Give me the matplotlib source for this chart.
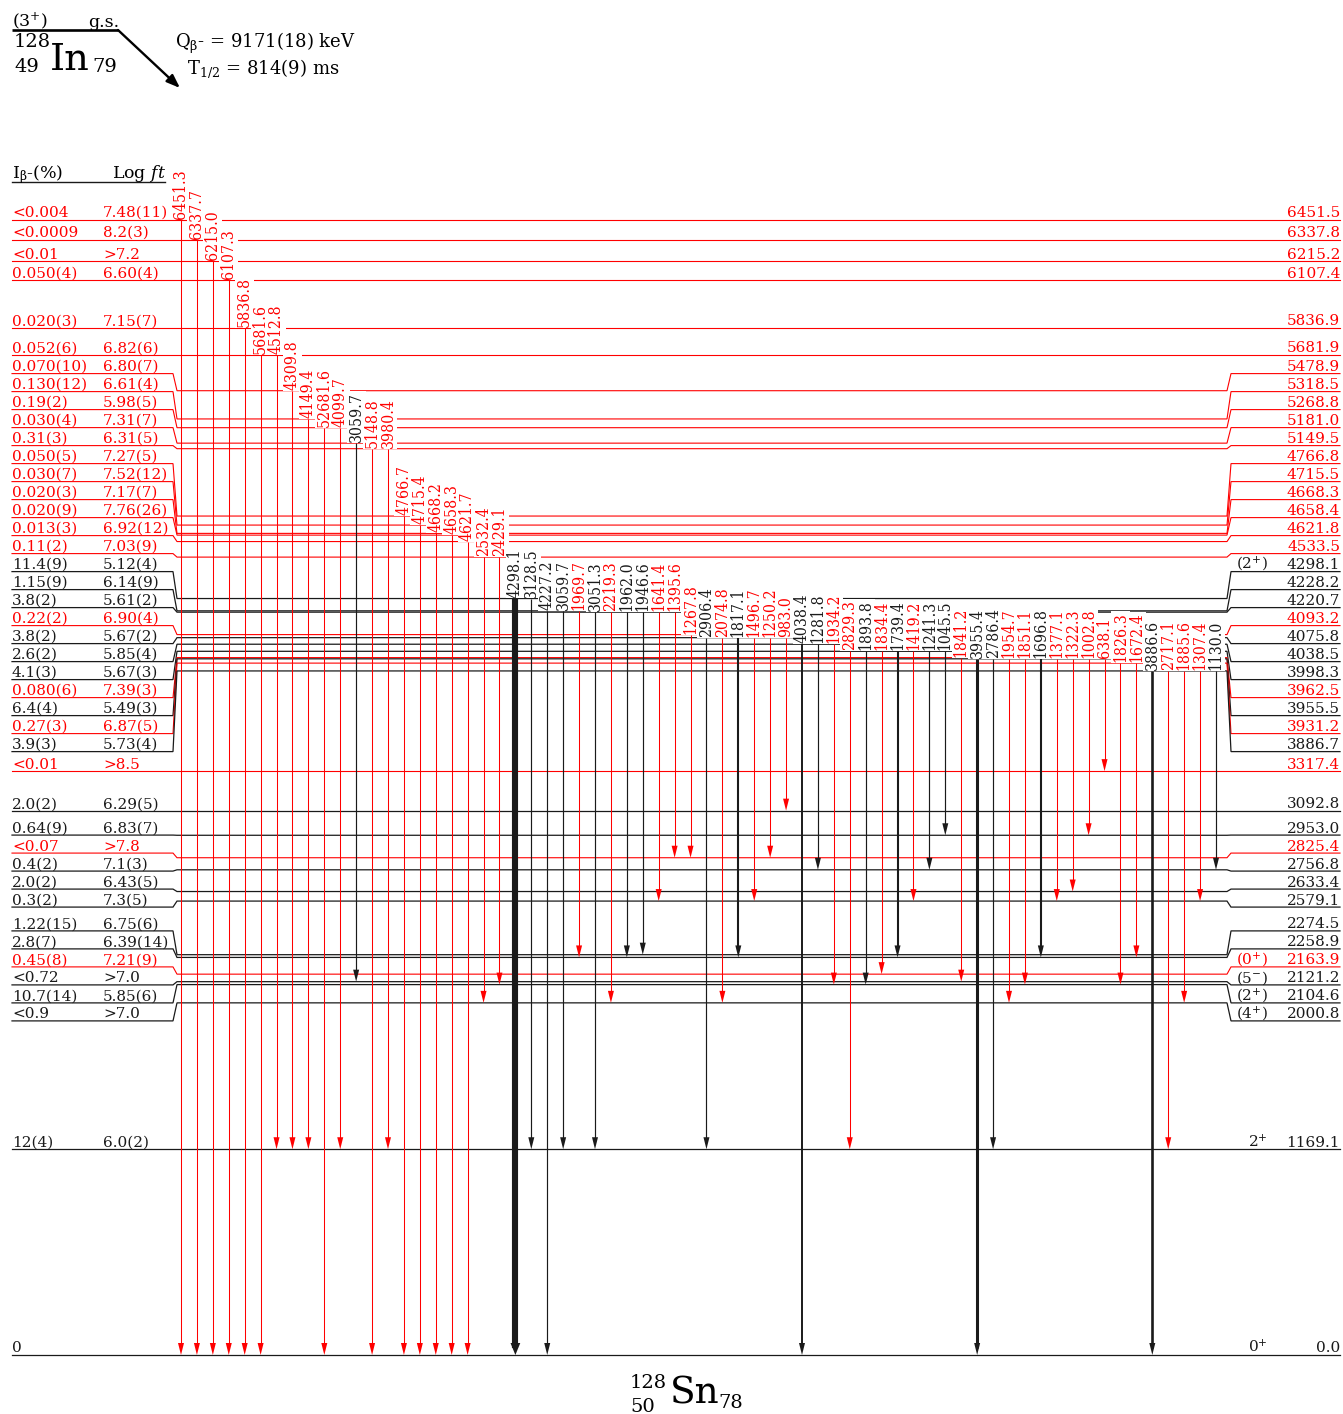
import matplotlib
matplotlib.use("Agg")
import matplotlib.pyplot as plt
from matplotlib.patches import Polygon

plt.rcParams['font.family'] = 'DejaVu Serif'
plt.rcParams['mathtext.fontset'] = 'dejavuserif'
plt.rcParams['mathtext.default'] = 'regular'

# ---------------------------------------------------------------- data
# Excited levels of 128Sn populated in the beta decay of 128In (keV)
level_energy = [6451.5, 6337.8, 6215.2, 6107.4, 5836.9, 5681.9, 5478.9, 5318.5,
                5268.8, 5181.0, 5149.5, 4766.8, 4715.5, 4668.3, 4658.4, 4621.8,
                4533.5, 4298.1, 4228.2, 4220.7, 4093.2, 4075.8, 4038.5, 3998.3,
                3962.5, 3955.5, 3931.2, 3886.7, 3317.4, 3092.8, 2953.0, 2825.4,
                2756.8, 2633.4, 2579.1, 2274.5, 2258.9, 2163.9, 2121.2, 2104.6,
                2000.8, 1169.1, 0.0]
beta_feed = ['<0.004', '<0.0009', '<0.01', '0.050(4)', '0.020(3)', '0.052(6)',
             '0.070(10)', '0.130(12)', '0.19(2)', '0.030(4)', '0.31(3)',
             '0.050(5)', '0.030(7)', '0.020(3)', '0.020(9)', '0.013(3)',
             '0.11(2)', '11.4(9)', '1.15(9)', '3.8(2)', '0.22(2)', '3.8(2)',
             '2.6(2)', '4.1(3)', '0.080(6)', '6.4(4)', '0.27(3)', '3.9(3)',
             '<0.01', '2.0(2)', '0.64(9)', '<0.07', '0.4(2)', '2.0(2)',
             '0.3(2)', '1.22(15)', '2.8(7)', '0.45(8)', '<0.72', '10.7(14)',
             '<0.9', '12(4)', '0']
log_ft = ['7.48(11)', '8.2(3)', '>7.2', '6.60(4)', '7.15(7)', '6.82(6)',
          '6.80(7)', '6.61(4)', '5.98(5)', '7.31(7)', '6.31(5)', '7.27(5)',
          '7.52(12)', '7.17(7)', '7.76(26)', '6.92(12)', '7.03(9)', '5.12(4)',
          '6.14(9)', '5.61(2)', '6.90(4)', '5.67(2)', '5.85(4)', '5.67(3)',
          '7.39(3)', '5.49(3)', '6.87(5)', '5.73(4)', '>8.5', '6.29(5)',
          '6.83(7)', '>7.8', '7.1(3)', '6.43(5)', '7.3(5)', '6.75(6)',
          '6.39(14)', '7.21(9)', '>7.0', '5.85(6)', '>7.0', '6.0(2)', '']
level_spin = {4298.1: '(2$^{+}$)', 2163.9: '(0$^{+}$)', 2121.2: '(5$^{-}$)',
              2104.6: '(2$^{+}$)', 2000.8: '(4$^{+}$)', 1169.1: '2$^{+}$',
              0.0: '0$^{+}$'}
new_level = [True] * 17 + [False, False, False, True, False, False, False,
                           True, False, True, False, True, False, False, True,
                           False, False, False, False, False, True, False,
                           False, False, False, False]

# Gamma-ray transitions: label, initial level, final level, newly placed
gamma_label = ['6451.3', '6337.7', '6215.0', '6107.3', '5836.8', '5681.6',
               '4512.8', '4309.8', '4149.4', '52681.6', '4099.7', '3059.7',
               '5148.8', '3980.4', '4766.7', '4715.4', '4668.2', '4658.3',
               '4621.7', '2532.4', '2429.1', '4298.1', '3128.5', '4227.2',
               '3059.7', '1969.7', '3051.3', '2219.3', '1962.0', '1946.6',
               '1641.4', '1395.6', '1267.8', '2906.4', '2074.8', '1817.1',
               '1496.7', '1250.2', '983.0', '4038.4', '1281.8', '1934.2',
               '2829.3', '1893.8', '1834.4', '1739.4', '1419.2', '1241.3',
               '1045.5', '1841.2', '3955.4', '2786.4', '1954.7', '1851.1',
               '1696.8', '1377.1', '1322.3', '1002.8', '638.1', '1826.3',
               '1672.4', '3886.6', '2717.1', '1885.6', '1307.4', '1130.0']
gamma_from = [6451.5, 6337.8, 6215.2, 6107.4, 5836.9, 5681.9, 5681.9, 5478.9,
              5318.5, 5268.8, 5268.8, 5181.0, 5149.5, 5149.5, 4766.8, 4715.5,
              4668.3, 4658.4, 4621.8, 4533.5, 4533.5, 4298.1, 4298.1, 4228.2,
              4228.2, 4228.2, 4220.7, 4220.7, 4220.7, 4220.7, 4220.7, 4220.7,
              4093.2, 4075.8, 4075.8, 4075.8, 4075.8, 4075.8, 4075.8, 4038.5,
              4038.5, 4038.5, 3998.3, 3998.3, 3998.3, 3998.3, 3998.3, 3998.3,
              3998.3, 3962.5, 3955.5, 3955.5, 3955.5, 3955.5, 3955.5, 3955.5,
              3955.5, 3955.5, 3955.5, 3931.2, 3931.2, 3886.7, 3886.7, 3886.7,
              3886.7, 3886.7]
gamma_to = [0.0, 0.0, 0.0, 0.0, 0.0, 0.0, 1169.1, 1169.1,
            1169.1, 0.0, 1169.1, 2121.2, 0.0, 1169.1, 0.0, 0.0,
            0.0, 0.0, 0.0, 2000.8, 2104.6, 0.0, 1169.1, 0.0,
            1169.1, 2258.9, 1169.1, 2000.8, 2258.9, 2274.5, 2579.1, 2825.4,
            2825.4, 1169.1, 2000.8, 2258.9, 2579.1, 2825.4, 3092.8, 0.0,
            2756.8, 2104.6, 1169.1, 2104.6, 2163.9, 2258.9, 2579.1, 2756.8,
            2953.0, 2121.2, 0.0, 1169.1, 2000.8, 2104.6, 2258.9, 2579.1,
            2633.4, 2953.0, 3317.4, 2104.6, 2258.9, 0.0, 1169.1, 2000.8,
            2579.1, 2756.8]
new_gamma = [True] * 11 + [False, True, True, True, True, True, True, True,
                           True, True, False, False, False, False, True, False,
                           True, False, False, True, True, True, False, True,
                           False, True, True, True, False, False, True, True,
                           False, True, False, True, False, False, True, False,
                           False, True, True, False, True, True, True, True,
                           True, True, False, True, True, True, False]

# ---------------------------------------------------------------- style
RED = '#ff0000'
BLACK = '#1a1a1a'
heavy_lw = {'4298.1': 4.4, '3955.4': 2.2, '3886.6': 1.9, '1817.1': 1.5,
            '4038.4': 1.4, '1739.4': 1.5, '1696.8': 1.5}

W, H = 1343, 1414
PX_PER_KEV = 0.176          # vertical scale of the scheme
ZERO_PX = 1355              # pixel row of the ground state
X_LEFT, X_KINK_L, X_KINK_R, X_RIGHT = 12, 173, 1229, 1340
X_FIRST, X_LAST = 181, 1216  # first and last gamma column
LABEL_GAP_PX = 18.0


def kev(px):
    return px / PX_PER_KEV


def spread_rows(targets, gap):
    """Place label rows at least `gap` apart, centring each crowded group."""
    order = sorted(range(len(targets)), key=lambda i: -targets[i])
    groups = []

    def place(group):
        mean = sum(targets[i] for i in group) / len(group)
        k = len(group)
        return {i: mean + gap * ((k - 1) / 2 - j) for j, i in enumerate(group)}

    for i in order:
        groups.append([i])
        while len(groups) > 1:
            upper, lower = place(groups[-2]), place(groups[-1])
            if min(upper.values()) - max(lower.values()) < gap:
                groups[-2:] = [groups[-2] + groups[-1]]
            else:
                break
    rows = [0.0] * len(targets)
    for g in groups:
        for i, v in place(g).items():
            rows[i] = v
    return rows


fig = plt.figure(figsize=(W / 100, H / 100), dpi=100)
ax = fig.add_axes([0, 0, 1, 1])
ax.set_xlim(0, W)
ax.set_ylim((ZERO_PX - H) / PX_PER_KEV, ZERO_PX / PX_PER_KEV)
ax.axis('off')

lay = fig.add_axes([0, 0, 1, 1], facecolor='none')
lay.set_xlim(0, W)
lay.set_ylim(H, 0)
lay.axis('off')

rows = spread_rows(level_energy, kev(LABEL_GAP_PX))

# ---------------------------------------------------------------- levels
FS_LEVEL = 11
for E, row, ib, ft, new in zip(level_energy, rows, beta_feed, log_ft, new_level):
    col = RED if new else BLACK
    lw = 0.8 if new else 0.9
    ax.plot([X_LEFT, X_KINK_L, X_KINK_L + 4, X_KINK_R - 2, X_KINK_R + 2, X_RIGHT],
            [row, row, E, E, row, row], color=col, lw=lw, zorder=1,
            solid_joinstyle='miter')
    yb = row + kev(2.5)
    ax.text(X_LEFT, yb, ib, color=col, fontsize=FS_LEVEL, va='baseline', ha='left')
    if ft:
        ax.text(103, yb, ft, color=col, fontsize=FS_LEVEL, va='baseline', ha='left')
    ax.text(X_RIGHT, yb, f'{E:.1f}', color=col, fontsize=FS_LEVEL,
            va='baseline', ha='right')
    if E in level_spin:
        ax.text(1268, yb, level_spin[E], color=col, fontsize=FS_LEVEL,
                va='baseline', ha='right')

# ---------------------------------------------------------------- gammas
n = len(gamma_label)
dx = (X_LAST - X_FIRST) / (n - 1)
HEAD_LEN = 12
for k, (lab, Ei, Ef, new) in enumerate(zip(gamma_label, gamma_from, gamma_to, new_gamma)):
    x = X_FIRST + k * dx
    col = RED if new else BLACK
    lw = heavy_lw.get(lab, 0.75 if new else 0.85)
    hw = max(3.0, lw * 1.39 * 0.8)
    ax.plot([x, x], [Ei, Ef + kev(HEAD_LEN * 0.6)], color=col, lw=lw,
            solid_capstyle='butt', zorder=4)
    ax.add_patch(Polygon([(x - hw, Ef + kev(HEAD_LEN)), (x + hw, Ef + kev(HEAD_LEN)),
                          (x, Ef)], closed=True, fc=col, ec='none', zorder=4))
    ax.text(x, Ei + kev(1), lab, rotation=90, ha='center', va='bottom',
            fontsize=11.3, fontstretch='condensed', color=col, zorder=3,
            bbox=dict(boxstyle='square,pad=0.06', fc='white', ec='none'))

# ---------------------------------------------------------------- header
lay.plot([12, 118], [30, 30], color='black', lw=1.9, solid_capstyle='butt')
lay.annotate('', xy=(180, 88), xytext=(118, 30),
             arrowprops=dict(arrowstyle='-|>,head_length=0.8,head_width=0.3',
                             lw=1.7, color='black', shrinkA=0, shrinkB=0,
                             mutation_scale=10))
lay.text(12, 26, '(3$^{+}$)', fontsize=12.5, va='baseline')
lay.text(88, 27, 'g.s.', fontsize=12.5, va='baseline')
lay.text(14, 47, '128', fontsize=14, va='baseline')
lay.text(14, 72, '49', fontsize=14, va='baseline')
lay.text(50, 70, 'In', fontsize=27.5, va='baseline')
lay.text(92, 72, '79', fontsize=14, va='baseline')
lay.text(175, 48, 'Q$_{β}$- = 9171(18) keV', fontsize=13, va='baseline')
lay.text(187, 74, 'T$_{1/2}$ = 814(9) ms', fontsize=13, va='baseline')

lay.text(12, 178, 'I$_{β}$-(%)', fontsize=12.5, va='baseline')
lay.text(112, 178, 'Log $\\mathit{ft}$', fontsize=12.5, va='baseline')
lay.plot([12, 165], [182, 182], color=BLACK, lw=1.0)

# ---------------------------------------------------------------- daughter
lay.text(630, 1388, '128', fontsize=14, va='baseline')
lay.text(630, 1412, '50', fontsize=14, va='baseline')
lay.text(670, 1403, 'Sn', fontsize=27, va='baseline')
lay.text(718, 1408, '78', fontsize=14, va='baseline')

fig.savefig('out.png', dpi=100)
